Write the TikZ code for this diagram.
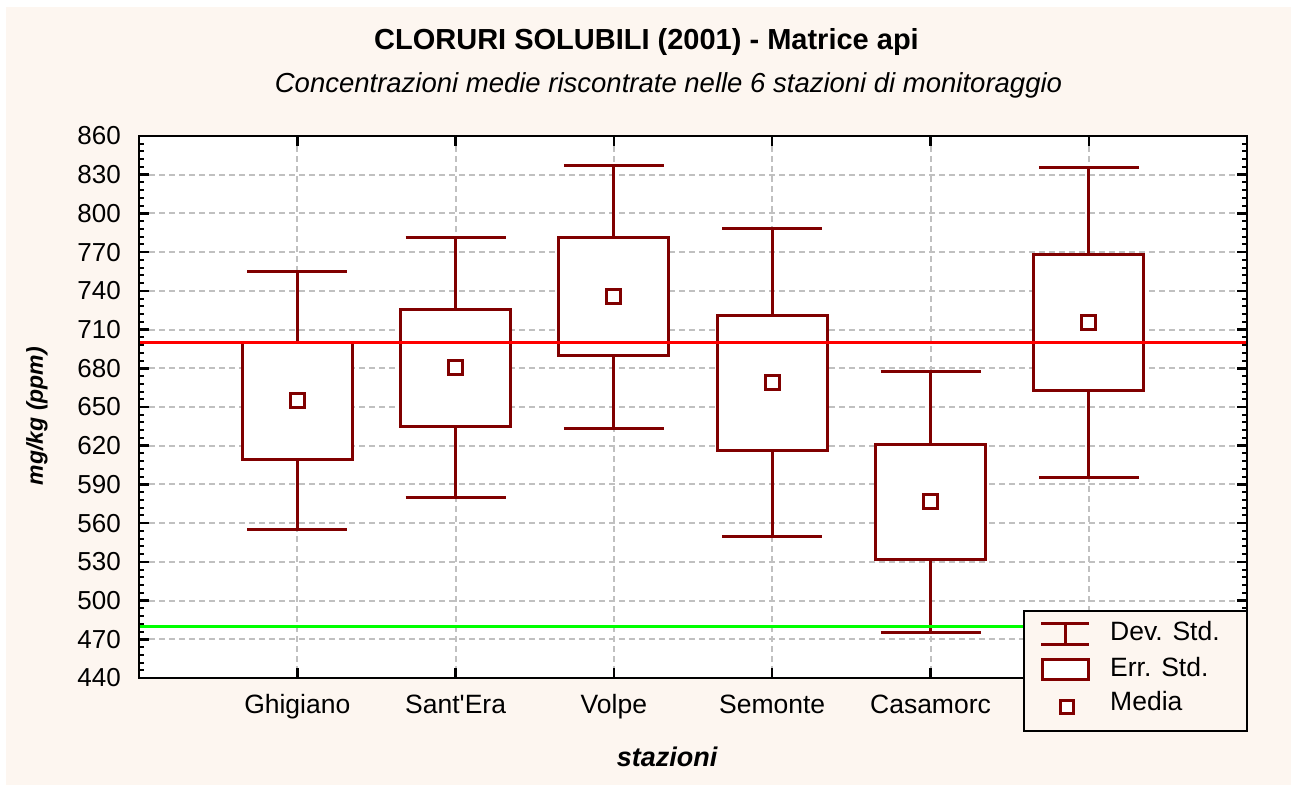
\documentclass[tikz,border=0pt]{standalone}
\usepackage{fontspec}
\setmainfont{Liberation Sans}
\definecolor{bgcream}{RGB}{253,246,240}
\definecolor{boxred}{RGB}{128,0,0}
\definecolor{gridgray}{RGB}{192,192,192}
\definecolor{refgreen}{RGB}{0,255,0}
\definecolor{refred}{RGB}{255,0,0}
\newcommand\bxplot[5]{%
  \coordinate (#1hi) at (#2,#3+#5);
  \coordinate (#1lo) at (#2,#3-#5);
  \coordinate (#1bt) at (#2,#3+#4);
  \coordinate (#1bb) at (#2,#3-#4);
  \draw[whisk] (#1hi) -- (#1bt) (#1bb) -- (#1lo);
  \draw[whisk] ([xshift=-50pt]#1hi) -- ([xshift=50pt]#1hi);
  \draw[whisk] ([xshift=-50pt]#1lo) -- ([xshift=50pt]#1lo);
  \draw[whisk, fill=white] ([xshift=-55pt]#1bt) rectangle ([xshift=55pt]#1bb);
  \node[meansq] (#1m) at (#2,#3) {};
}
\begin{document}
\begin{tikzpicture}[x=1pt,y=-1pt,
  gridln/.style={gridgray, line width=2pt, dash pattern=on 6pt off 4pt},
  whisk/.style={boxred, line width=3pt},
  meansq/.style={rectangle, draw=boxred, line width=3pt, fill=white, minimum size=14pt, inner sep=0pt},
  ticklab/.style={anchor=east, inner sep=0pt, font=\fontsize{26}{30}\selectfont},
  catlab/.style={anchor=base, inner sep=0pt, font=\fontsize{26.5}{30}\selectfont},
  leglab/.style={anchor=base west, inner sep=0pt, font=\fontsize{26.5}{30}\selectfont},
  axtick/.style={black, line width=2pt},
  axmajor/.style={black, line width=2.5pt},
  refline/.style={line width=3pt}]
\useasboundingbox (0,0) rectangle (1291,785);
\fill[white] (0,0) rectangle (1291,785);
\fill[bgcream] (6,7) rectangle (1291,785);
% titles
\node[anchor=base, inner sep=0pt, font=\bfseries\fontsize{29}{32}\selectfont] (title) at (646.5,49.5) {CLORURI SOLUBILI (2001) - Matrice api};
\node[anchor=base, inner sep=0pt, font=\itshape\fontsize{27.5}{32}\selectfont] (subtitle) at (668.5,92) {Concentrazioni medie riscontrate nelle 6 stazioni di monitoraggio};
% plot area
\coordinate (pNW) at (139,136);
\coordinate (pSE) at (1247,678);
\fill[white] (pNW) rectangle (pSE);
% vertical grid
\foreach \cx in {297.3,455.6,613.9,772.2,930.5,1088.8}{
  \draw[gridln] (\cx,136) -- (\cx,678);
}
\begin{scope}[yshift=-1245.81pt, y=1.290476pt]
  \foreach \v in {470,500,...,830}{
    \draw[gridln] (139,\v) -- (1247,\v);
  }
  \bxplot{g}{297.3}{655}{45.3}{100}
  \bxplot{s}{455.6}{680.5}{45.3}{100.7}
  \bxplot{v}{613.9}{735.6}{45.4}{101.9}
  \bxplot{m}{772.2}{668.7}{52.3}{119.3}
  \bxplot{c}{930.5}{576.4}{44.2}{100.8}
  \bxplot{x}{1088.8}{715.5}{53}{120}
  \draw[refline, refred] (139,700) -- (1247,700);
  \draw[refline, refgreen] (139,480) -- (1247,480);
  % ticks
  \foreach \v in {440,446,...,860}{
    \draw[axtick] (139,\v) -- +(5,0);
    \draw[axtick] (1247,\v) -- +(-5,0);
  }
  \foreach \v in {440,470,...,860}{
    \draw[axmajor] (139,\v) -- +(10,0);
    \draw[axmajor] (1247,\v) -- +(-10,0);
    \node[ticklab] (yl\v) at (121,\v) {\v};
  }
\end{scope}
\foreach \cx in {297.3,455.6,613.9,772.2,930.5,1088.8}{
  \draw[axmajor] (\cx,136) -- (\cx,146);
  \draw[axmajor] (\cx,678) -- (\cx,668);
}
\draw[black, line width=2.5pt] (pNW) rectangle (pSE);
% category labels
\node[catlab] (c1) at (297.3,713) {Ghigiano};
\node[catlab] (c2) at (455.6,713) {Sant\textquotesingle Era};
\node[catlab] (c3) at (613.9,713) {Volpe};
\node[catlab] (c4) at (772.2,713) {Semonte};
\node[catlab] (c5) at (930.5,713) {Casamorc};
% axis titles
\node[anchor=base, inner sep=0pt, font=\bfseries\itshape\fontsize{27}{30}\selectfont] (xtitle) at (667,766) {stazioni};
\node[rotate=90, inner sep=0pt, font=\bfseries\itshape\fontsize{23}{26}\selectfont] (ytitle) at (37,416) {mg/kg (ppm)};
% legend
\node[draw=black, line width=2.5pt, fill=bgcream, minimum width=223pt, minimum height=120pt, inner sep=0pt] (legend) at (1135.5,671) {};
\draw[whisk] (1041,623) -- (1089,623) (1041,644) -- (1089,644) (1065,623) -- (1065,644);
\draw[whisk, fill=white] (1042,659) rectangle (1088,679);
\node[meansq, minimum size=13pt] (lm) at (1067,706.5) {};
\node[leglab] (l1) at (1110,640) {Dev. Std.};
\node[leglab] (l2) at (1110,676) {Err. Std.};
\node[leglab] (l3) at (1110,710) {Media};
\end{tikzpicture}
\end{document}
